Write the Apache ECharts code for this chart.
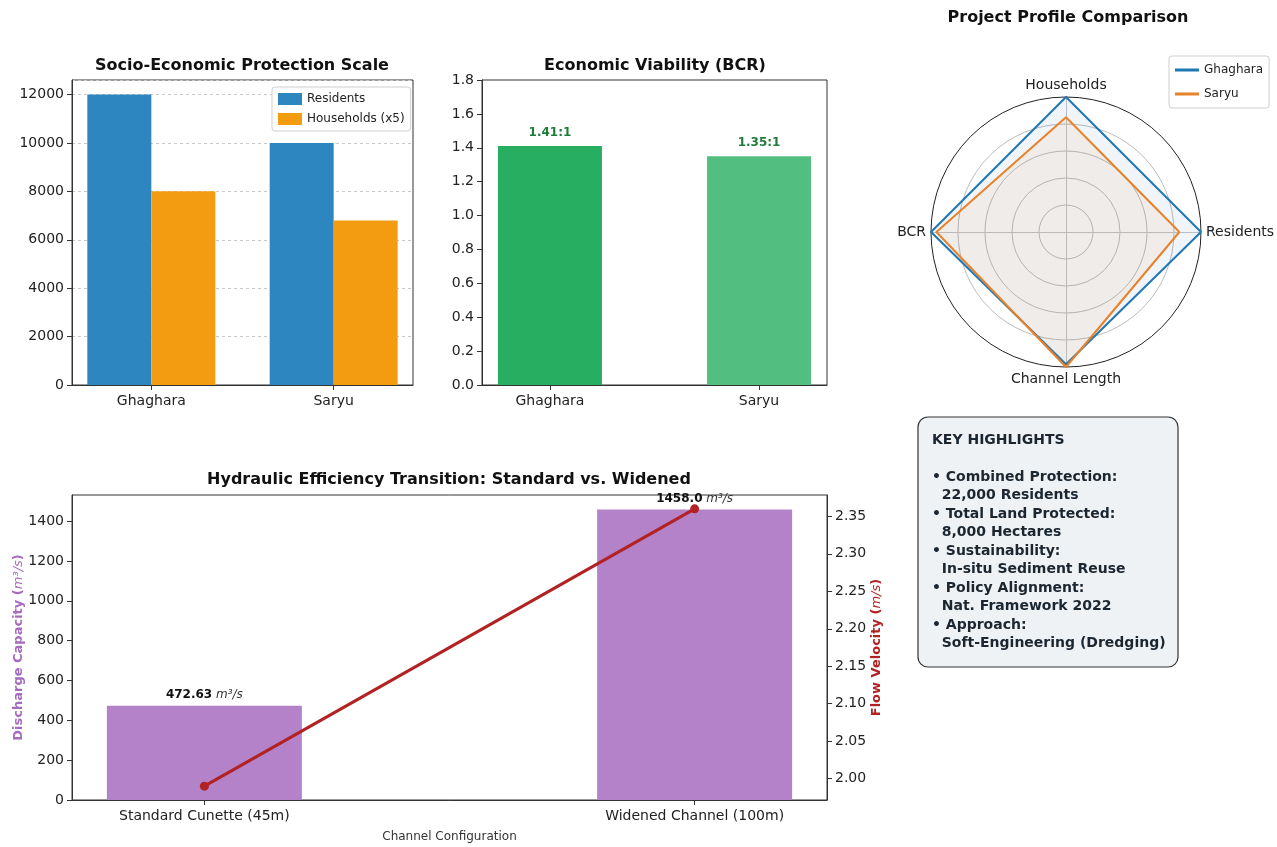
<!DOCTYPE html>
<html>
<head>
<meta charset="utf-8">
<title>Project comparison</title>
<script src="https://cdn.jsdelivr.net/npm/echarts@6/dist/echarts.min.js"></script>
<style>
  html, body { margin: 0; padding: 0; background: #fff; }
  #main { width: 1277px; height: 847px; }
</style>
</head>
<body>
<div id="main"></div>
<script>
// data
const projects = ['Ghaghara', 'Saryu'];
const residents = [12000, 10000];
const householdsX5 = [8000, 6800];
const bcr = [1.41, 1.35];

const radarAxes = ['Residents', 'Households', 'BCR', 'Channel Length'];
const radarGhaghara = [1.0, 1.0, 1.0, 0.98];
const radarSaryu = [0.84, 0.85, 0.96, 1.0];

const channels = ['Standard Cunette (45m)', 'Widened Channel (100m)'];
const discharge = [472.63, 1458.0];
const velocity = [1.99, 2.36];
const velocityTicks = [2.00, 2.05, 2.10, 2.15, 2.20, 2.25, 2.30, 2.35];

const highlights = [
    'KEY HIGHLIGHTS',
    '',
    '\u2022 Combined Protection:',
    '  22,000 Residents',
    '\u2022 Total Land Protected:',
    '  8,000 Hectares',
    '\u2022 Sustainability:',
    '  In-situ Sediment Reuse',
    '\u2022 Policy Alignment:',
    '  Nat. Framework 2022',
    '\u2022 Approach:',
    '  Soft-Engineering (Dredging)'
];

const FONT = '"DejaVu Sans", sans-serif';
const chart = echarts.init(document.getElementById('main'));

const frame = { show: true, borderColor: '#333', borderWidth: 1, backgroundColor: 'transparent', outerBoundsMode: 'none' };
const axisTxt = { color: '#222', fontSize: 14, fontFamily: FONT };

function catAxis(gridIndex, min, max, names, extra) {
    return Object.assign({
        type: 'value', gridIndex: gridIndex, min: min, max: max,
        axisLine: { onZero: false, lineStyle: { color: '#333' } },
        axisTick: { length: 5, customValues: [0, 1], lineStyle: { color: '#333' } },
        axisLabel: Object.assign({ customValues: [0, 1], margin: 9,
            formatter: v => names[Math.round(v)] }, axisTxt),
        splitLine: { show: false }
    }, extra || {});
}

function valAxis(gridIndex, extra) {
    return Object.assign({
        type: 'value', gridIndex: gridIndex,
        axisLine: { show: true, onZero: false, lineStyle: { color: '#333' } },
        axisTick: { show: true, length: 5, lineStyle: { color: '#333' } },
        splitLine: { show: false }
    }, extra);
}

function fmtQ(v) {
    return Number.isInteger(v) ? v.toFixed(1) : String(v);
}

const option = {
    backgroundColor: '#fff',
    textStyle: { fontFamily: FONT },
    animation: false,
    grid: [
        Object.assign({ left: 72, top: 80, width: 341, height: 305 }, frame),
        Object.assign({ left: 482, top: 80, width: 345, height: 305 }, frame),
        Object.assign({ left: 72, top: 495, width: 755, height: 305 }, frame)
    ],
    xAxis: [
        catAxis(0, -0.435, 1.435, projects),
        catAxis(1, -0.325, 1.325, projects),
        catAxis(2, -0.27, 1.27, channels, {
            name: 'Channel Configuration', nameLocation: 'middle', nameGap: 31,
            nameMoveOverlap: false,
            nameTextStyle: { color: '#333', fontSize: 12, fontFamily: FONT }
        })
    ],
    yAxis: [
        valAxis(0, {
            min: 0, max: 12600, interval: 2000,
            axisLabel: Object.assign({ showMaxLabel: false, formatter: v => String(v) }, axisTxt),
            splitLine: { show: true, lineStyle: { color: '#c8c8c8', type: [3, 3] } }
        }),
        valAxis(1, {
            min: 0, max: 1.8, interval: 0.2,
            axisLabel: Object.assign({ formatter: v => v.toFixed(1) }, axisTxt)
        }),
        valAxis(2, {
            min: 0, max: 1530.9, interval: 200,
            axisLabel: Object.assign({ showMaxLabel: false, formatter: v => String(v) }, axisTxt),
            name: '{b|Discharge Capacity (}{i|m\u00b3/s}{b|)}',
            nameLocation: 'middle', nameGap: 47, nameRotate: 90, nameMoveOverlap: false,
            nameTextStyle: {
                rich: {
                    b: { color: '#a66bbe', fontWeight: 'bold', fontSize: 13, fontFamily: FONT },
                    i: { color: '#a66bbe', fontStyle: 'italic', fontSize: 13, fontFamily: FONT }
                }
            }
        }),
        valAxis(2, {
            position: 'right', min: 1.9715, max: 2.3785,
            axisTick: { show: true, length: 5, customValues: velocityTicks, lineStyle: { color: '#333' } },
            axisLabel: Object.assign({ customValues: velocityTicks, formatter: v => v.toFixed(2) }, axisTxt),
            name: '{b|Flow Velocity (}{i|m/s}{b|)}',
            nameLocation: 'middle', nameGap: 43, nameRotate: 90, nameMoveOverlap: false,
            nameTextStyle: {
                rich: {
                    b: { color: '#b22222', fontWeight: 'bold', fontSize: 13, fontFamily: FONT },
                    i: { color: '#b22222', fontStyle: 'italic', fontSize: 13, fontFamily: FONT }
                }
            }
        })
    ],
    radar: {
        center: [1066, 232],
        radius: 135,
        startAngle: 0,
        shape: 'circle',
        splitNumber: 5,
        nameGap: 5,
        indicator: radarAxes.map(n => ({ name: n, min: 0, max: 1 })),
        axisName: { color: '#222', fontSize: 14, fontFamily: FONT },
        axisLine: { lineStyle: { color: '#c4c4c4' } },
        splitLine: { lineStyle: { color: ['#bdbdbd', '#bdbdbd', '#bdbdbd', '#bdbdbd', '#bdbdbd', '#222'], width: 1 } },
        splitArea: { show: false }
    },
    legend: [
        {
            data: ['Residents', 'Households (x5)'],
            left: 272, top: 87, orient: 'vertical',
            icon: 'rect', itemWidth: 24, itemHeight: 12, itemGap: 8,
            padding: [6, 6],
            borderColor: '#cfcfcf', borderWidth: 1, borderRadius: 3,
            backgroundColor: '#fff',
            textStyle: { color: '#222', fontSize: 12, fontFamily: FONT }
        },
        {
            data: ['Ghaghara', 'Saryu'],
            left: 1169, top: 56, orient: 'vertical',
            icon: 'rect', itemWidth: 24, itemHeight: 3, itemGap: 12,
            padding: [8, 6],
            borderColor: '#cfcfcf', borderWidth: 1, borderRadius: 3,
            backgroundColor: '#fff',
            textStyle: { color: '#222', fontSize: 12, fontFamily: FONT }
        }
    ],
    graphic: [
        { type: 'text', x: 242, y: 66, style: { text: 'Socio-Economic Protection Scale', font: 'bold 16px ' + FONT, fill: '#111', align: 'center', verticalAlign: 'middle' } },
        { type: 'text', x: 655, y: 66, style: { text: 'Economic Viability (BCR)', font: 'bold 16px ' + FONT, fill: '#111', align: 'center', verticalAlign: 'middle' } },
        { type: 'text', x: 1068, y: 18, style: { text: 'Project Profile Comparison', font: 'bold 16px ' + FONT, fill: '#111', align: 'center', verticalAlign: 'middle' } },
        { type: 'text', x: 449, y: 480, style: { text: 'Hydraulic Efficiency Transition: Standard vs. Widened', font: 'bold 16px ' + FONT, fill: '#111', align: 'center', verticalAlign: 'middle' } },
        {
            type: 'rect', shape: { x: 918, y: 417, width: 260, height: 250, r: 10 },
            style: { fill: '#eef2f4', stroke: '#333', lineWidth: 1.2 }
        },
        {
            type: 'text', x: 932, y: 431,
            style: { text: highlights.join('\n'), font: 'bold 14px ' + FONT, lineHeight: 18.5, fill: '#1b2631', align: 'left', verticalAlign: 'top' }
        }
    ],
    series: [
        {
            name: 'Residents', type: 'bar', xAxisIndex: 0, yAxisIndex: 0,
            barWidth: 64, barGap: '0%',
            itemStyle: { color: '#2e86c1' },
            data: residents.map((v, i) => [i, v])
        },
        {
            name: 'Households (x5)', type: 'bar', xAxisIndex: 0, yAxisIndex: 0,
            barWidth: 64, barGap: '0%',
            itemStyle: { color: '#f39c12' },
            data: householdsX5.map((v, i) => [i, v])
        },
        {
            name: 'BCR', type: 'bar', xAxisIndex: 1, yAxisIndex: 1,
            barWidth: 104,
            label: {
                show: true, position: 'top', distance: 7,
                color: '#1e7b3a', fontWeight: 'bold', fontSize: 12, fontFamily: FONT,
                formatter: p => p.value[1].toFixed(2) + ':1'
            },
            data: bcr.map((v, i) => ({ value: [i, v], itemStyle: { color: ['#27ae60', '#52be80'][i] } }))
        },
        {
            name: 'Discharge', type: 'bar', xAxisIndex: 2, yAxisIndex: 2,
            barWidth: 195,
            itemStyle: { color: '#b482c8' },
            label: {
                show: true, position: 'top', distance: 5,
                formatter: p => '{b|' + fmtQ(p.value[1]) + '} {i|m\u00b3/s}',
                rich: {
                    b: { fontWeight: 'bold', fontSize: 12, color: '#111', fontFamily: FONT },
                    i: { fontStyle: 'italic', fontSize: 12, color: '#333', fontFamily: FONT }
                }
            },
            data: discharge.map((v, i) => [i, v])
        },
        {
            name: 'Velocity', type: 'line', xAxisIndex: 2, yAxisIndex: 3,
            symbol: 'circle', symbolSize: 9, z: 5,
            itemStyle: { color: '#b22222' },
            lineStyle: { color: '#b22222', width: 3 },
            data: velocity.map((v, i) => [i, v])
        },
        {
            name: 'Profile', type: 'radar',
            symbol: 'none',
            data: [
                {
                    name: 'Ghaghara', value: radarGhaghara,
                    itemStyle: { color: '#1f77b4' },
                    lineStyle: { color: '#1f77b4', width: 2 },
                    areaStyle: { color: 'rgba(31,119,180,0.1)' }
                },
                {
                    name: 'Saryu', value: radarSaryu,
                    itemStyle: { color: '#e8822a' },
                    lineStyle: { color: '#e8822a', width: 2 },
                    areaStyle: { color: 'rgba(255,127,14,0.1)' }
                }
            ]
        }
    ]
};

chart.setOption(option);
</script>
</body>
</html>
